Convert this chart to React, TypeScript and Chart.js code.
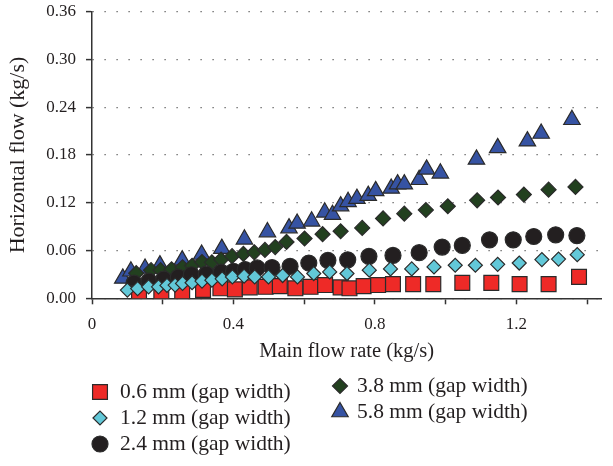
import React, { useEffect, useRef } from 'react';
import { Chart, registerables } from 'chart.js';
import * as helpers from 'chart.js/helpers';

Chart.register(...registerables);

// ---- data ----
const x06 = [0.133, 0.196, 0.255, 0.314, 0.363, 0.404, 0.446, 0.491, 0.531, 0.575, 0.618, 0.659, 0.703, 0.728, 0.768, 0.809, 0.851, 0.908, 0.965, 1.047, 1.129, 1.209, 1.291, 1.377];
const y06 = [0.0066, 0.0082, 0.0082, 0.0104, 0.0125, 0.0112, 0.0137, 0.0144, 0.0153, 0.0125, 0.0144, 0.0166, 0.0137, 0.0125, 0.0153, 0.0166, 0.0178, 0.0178, 0.0178, 0.0194, 0.0194, 0.0178, 0.0178, 0.0269];

const x12 = [0.100, 0.129, 0.160, 0.188, 0.212, 0.235, 0.256, 0.283, 0.311, 0.339, 0.368, 0.397, 0.430, 0.460, 0.499, 0.539, 0.581, 0.627, 0.672, 0.721, 0.784, 0.844, 0.904, 0.967, 1.027, 1.084, 1.147, 1.208, 1.272, 1.319, 1.372];
const y12 = [0.0103, 0.0122, 0.0144, 0.0144, 0.0162, 0.0166, 0.0187, 0.0195, 0.0216, 0.0228, 0.0244, 0.0269, 0.0278, 0.0269, 0.0269, 0.0286, 0.0269, 0.0311, 0.0331, 0.0311, 0.0353, 0.0369, 0.0369, 0.0394, 0.0415, 0.0415, 0.0427, 0.0443, 0.0486, 0.0493, 0.0548];

const x24 = [0.119, 0.161, 0.203, 0.244, 0.281, 0.323, 0.365, 0.400, 0.433, 0.467, 0.509, 0.560, 0.613, 0.667, 0.723, 0.783, 0.851, 0.925, 0.990, 1.047, 1.124, 1.191, 1.249, 1.311, 1.371];
const y24 = [0.0190, 0.0215, 0.0240, 0.0265, 0.0296, 0.0303, 0.0328, 0.0340, 0.0361, 0.0381, 0.0387, 0.0402, 0.0443, 0.0477, 0.0483, 0.0527, 0.0539, 0.0573, 0.0643, 0.0664, 0.0734, 0.0734, 0.0776, 0.0797, 0.0788];

const x38 = [0.125, 0.167, 0.194, 0.225, 0.256, 0.283, 0.311, 0.339, 0.365, 0.396, 0.428, 0.459, 0.489, 0.518, 0.550, 0.601, 0.652, 0.703, 0.764, 0.823, 0.883, 0.944, 1.006, 1.089, 1.148, 1.221, 1.291, 1.367];
const y38 = [0.0315, 0.0353, 0.0353, 0.0365, 0.0390, 0.0409, 0.0456, 0.0452, 0.0486, 0.0529, 0.0558, 0.0577, 0.0608, 0.0643, 0.0708, 0.0751, 0.0805, 0.0842, 0.0884, 0.1003, 0.1063, 0.1109, 0.1156, 0.1231, 0.1266, 0.1303, 0.1365, 0.1399];

const x58 = [0.087, 0.110, 0.150, 0.192, 0.255, 0.310, 0.367, 0.431, 0.496, 0.557, 0.580, 0.621, 0.658, 0.680, 0.703, 0.724, 0.749, 0.781, 0.802, 0.846, 0.864, 0.883, 0.925, 0.946, 0.985, 1.087, 1.147, 1.231, 1.270, 1.357];
const y58 = [0.0250, 0.0340, 0.0375, 0.0417, 0.0480, 0.0550, 0.0624, 0.0741, 0.0832, 0.0882, 0.0940, 0.0967, 0.1080, 0.1050, 0.1158, 0.1212, 0.1252, 0.1290, 0.1350, 0.1380, 0.1434, 0.1434, 0.1489, 0.1620, 0.1570, 0.1745, 0.1890, 0.1974, 0.2070, 0.2243];

const seriesLabels = ['0.6 mm (gap width)', '1.2 mm (gap width)', '2.4 mm (gap width)', '3.8 mm (gap width)', '5.8 mm (gap width)'];

const xTickValues = [0, 0.2, 0.4, 0.6, 0.8, 1.0, 1.2, 1.4];
const xTickLabels = ['0', '', '0.4', '', '0.8', '', '1.2', ''];
const yTickValues = [0, 0.06, 0.12, 0.18, 0.24, 0.30, 0.36];
const yTickLabels = ['0.00', '0.06', '0.12', '0.18', '0.24', '0.30', '0.36'];

// ---- styles ----
const FONT = "'Liberation Serif', 'DejaVu Serif', serif";
const TEXT = '#231f20';
const EDGE = '#2b2b2b';

const seriesStyle = [
  { style: 'rect', color: '#ee2a27', radius: 10.5, order: 1 },
  { style: 'rectRot', color: '#62c8d8', radius: 7, order: 0 },
  { style: 'circle', color: '#231f20', radius: 8, order: 2 },
  { style: 'rectRot', color: '#22401f', radius: 7.5, order: 3 },
  { style: 'triangle', color: '#3653a3', radius: 9.5, order: 4 },
];

const legendLayout = [
  { x: 100, y: 392, tx: 120 },
  { x: 100, y: 418, tx: 120 },
  { x: 100, y: 444, tx: 120 },
  { x: 340, y: 386, tx: 357 },
  { x: 340, y: 412, tx: 357 },
];

const legendPlugin = {
  id: 'customLegend',
  afterDraw(chart: any) {
    const ctx = chart.ctx;
    ctx.save();
    ctx.font = `21.5px ${FONT}`;
    ctx.textBaseline = 'middle';
    ctx.textAlign = 'left';
    seriesLabels.forEach((label, i) => {
      const s = seriesStyle[i];
      const p = legendLayout[i];
      ctx.fillStyle = s.color;
      ctx.strokeStyle = EDGE;
      ctx.lineWidth = 1.2;
      helpers.drawPoint(ctx, { pointStyle: s.style, radius: s.radius, borderWidth: 1.2, rotation: 0 }, p.x, p.y);
      ctx.fillStyle = TEXT;
      ctx.fillText(label, p.tx, p.y);
    });
    ctx.restore();
  },
};

function pts(xs: number[], ys: number[]) {
  return xs.map((x, i) => ({ x, y: ys[i] }));
}

export default function App() {
  const ref = useRef<HTMLCanvasElement | null>(null);
  useEffect(() => {
    if (!ref.current) return;
    const data = [pts(x06, y06), pts(x12, y12), pts(x24, y24), pts(x38, y38), pts(x58, y58)];
    const chart = new Chart(ref.current, {
      type: 'scatter',
      data: {
        datasets: data.map((d, i) => ({
          label: seriesLabels[i],
          data: d,
          order: seriesStyle[i].order,
          pointStyle: seriesStyle[i].style as any,
          pointRadius: seriesStyle[i].radius,
          pointHoverRadius: seriesStyle[i].radius,
          backgroundColor: seriesStyle[i].color,
          borderColor: EDGE,
          borderWidth: 1.2,
          showLine: false,
        })),
      },
      options: {
        animation: false,
        responsive: true,
        maintainAspectRatio: false,
        layout: { padding: { left: 5, right: 3, top: 0, bottom: 101.7 } },
        plugins: { legend: { display: false }, tooltip: { enabled: false } },
        scales: {
          x: {
            type: 'linear',
            min: 0,
            max: 1.44,
            afterBuildTicks: (scale: any) => {
              scale.ticks = xTickValues.map((v) => ({ value: v }));
            },
            afterFit: (scale: any) => {
              scale.height = 66;
              scale.paddingLeft = 0;
              scale.paddingRight = 0;
            },
            ticks: {
              autoSkip: false,
              maxRotation: 0,
              padding: 10,
              color: TEXT,
              font: { family: FONT, size: 17 },
              callback: (_v: any, i: number) => xTickLabels[i],
            },
            grid: {
              drawOnChartArea: false,
              drawTicks: true,
              tickLength: 6,
              tickColor: '#333',
              tickWidth: 1.5,
            },
            border: { display: true, color: '#333', width: 1.5 },
            title: {
              display: true,
              text: 'Main flow rate (kg/s)',
              color: TEXT,
              font: { family: FONT, size: 20.5 },
              padding: { top: 4, bottom: 0 },
            },
          },
          y: {
            type: 'linear',
            min: 0,
            max: 0.36,
            afterBuildTicks: (scale: any) => {
              scale.ticks = yTickValues.map((v) => ({ value: v }));
            },
            afterFit: (scale: any) => {
              scale.width = 87;
              scale.paddingTop = 9.3;
              scale.paddingBottom = 0;
            },
            ticks: {
              autoSkip: false,
              padding: 10,
              color: TEXT,
              font: { family: FONT, size: 17 },
              callback: (_v: any, i: number) => yTickLabels[i],
            },
            grid: {
              drawOnChartArea: true,
              drawTicks: true,
              tickLength: 6,
              color: '#555',
              lineWidth: 1.2,
              tickColor: '#333',
              tickWidth: 1.5,
              tickBorderDash: [],
            },
            border: { display: true, color: '#333', width: 1.5, dash: [1.2, 10.8] },
            title: {
              display: true,
              text: 'Horizontal flow (kg/s)',
              color: TEXT,
              font: { family: FONT, size: 22 },
              padding: { top: 0, bottom: 0 },
            },
          },
        },
      },
      plugins: [legendPlugin],
    } as any);
    return () => chart.destroy();
  }, []);
  return (
    <div style={{ position: 'fixed', left: 0, top: 0, width: 613, height: 466, background: '#fff' }}>
      <canvas ref={ref} />
    </div>
  );
}
